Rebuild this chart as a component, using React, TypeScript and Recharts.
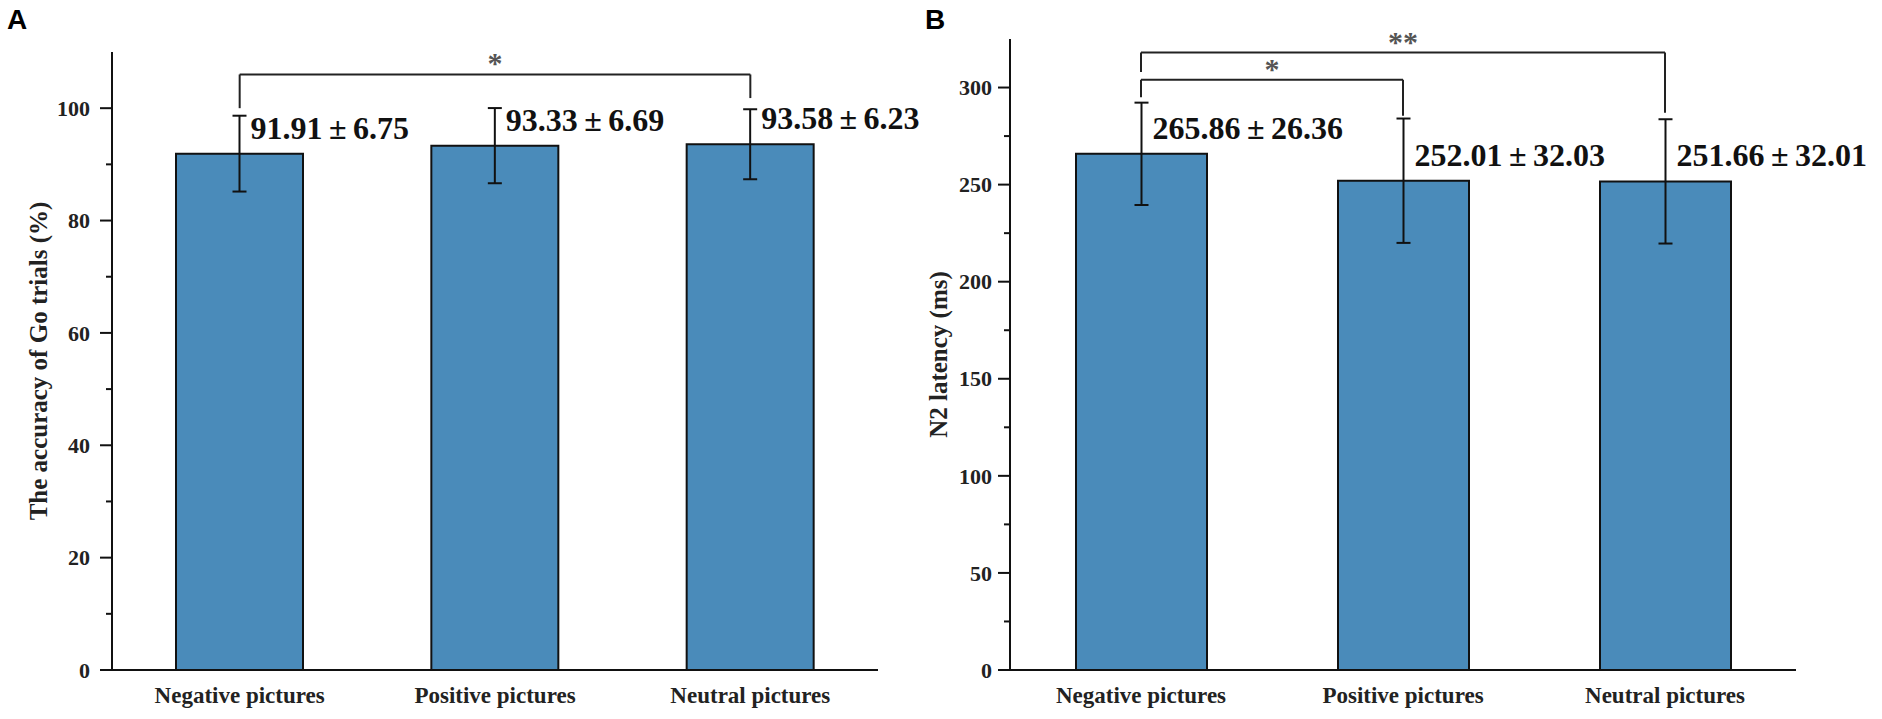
import React from "react";
import { Bar, BarChart, ErrorBar, LabelList, ReferenceLine, XAxis, YAxis } from "recharts";

document.body.style.margin = "0";

const categories = ["Negative pictures", "Positive pictures", "Neutral pictures"];
const accuracyMean = [91.91, 93.33, 93.58];
const accuracySd = [6.75, 6.69, 6.23];
const latencyMean = [265.86, 252.01, 251.66];
const latencySd = [26.36, 32.03, 32.01];

const accuracyTicks = [0, 10, 20, 30, 40, 50, 60, 70, 80, 90, 100];
const latencyTicks = [0, 25, 50, 75, 100, 125, 150, 175, 200, 225, 250, 275, 300];

// significance brackets (y values in data units)
const accuracyBrackets = [
  { from: "Negative pictures", to: "Neutral pictures", y: 106, fromEnd: 100, toEnd: 101.8, mark: "*" },
];
const latencyBrackets = [
  { from: "Negative pictures", to: "Positive pictures", y: 304, fromEnd: 295, toEnd: 285.5, mark: "*" },
  { from: "Negative pictures", to: "Neutral pictures", y: 318, fromEnd: 308, toEnd: 287, mark: "**" },
];

const SERIF = '"Liberation Serif", "Times New Roman", serif';
const INK = "#111";
const BAR = "#4A8BBA";
const TICK = 12;
const MINOR = 6;

const rows = (means: number[], sds: number[]) =>
  categories.map((name, i) => ({
    name,
    mean: means[i],
    sd: sds[i],
    label: `${means[i].toFixed(2)}\u2009±\u2009${sds[i].toFixed(2)}`,
  }));

function makeYTick(majorStep: number, margin: number) {
  return (props: any) => {
    const { x, y, payload } = props;
    const axisX = Number(x) + TICK + margin;
    const major = payload.value % majorStep === 0;
    return (
      <g>
        <line x1={axisX - (major ? TICK : MINOR)} x2={axisX} y1={y} y2={y} stroke={INK} strokeWidth={2} />
        {major && (
          <text x={x} y={y} dy="0.35em" textAnchor="end" fontFamily={SERIF} fontWeight="bold" fontSize={22} fill="#222">
            {payload.value}
          </text>
        )}
      </g>
    );
  };
}

function yTitle(text: string) {
  return (props: any) => {
    const vb = props.viewBox || { x: 0, y: 0, height: 0 };
    const cx = vb.x + 38;
    const cy = vb.y + vb.height / 2;
    return (
      <text
        x={cx}
        y={cy}
        transform={`rotate(-90, ${cx}, ${cy})`}
        textAnchor="middle"
        dominantBaseline="central"
        fontFamily={SERIF}
        fontWeight="bold"
        fontSize={25}
        fill="#222"
      >
        {text}
      </text>
    );
  };
}

const valueLabel = (props: any) => {
  const { x, y, width, value } = props;
  return (
    <text x={Number(x) + Number(width) / 2 + 11} y={Number(y) - 15} fontFamily={SERIF} fontWeight="bold" fontSize={32} fill={INK}>
      {value}
    </text>
  );
};

function bracketLines(list: typeof accuracyBrackets) {
  return list.flatMap((b, i) => [
    <ReferenceLine
      key={`h${i}`}
      segment={[{ x: b.from, y: b.y }, { x: b.to, y: b.y }]}
      stroke="#222"
      strokeWidth={2}
      ifOverflow="visible"
      label={{ value: b.mark, position: "top", offset: 1, fontSize: 30, fontWeight: "bold", fill: "#555", fontFamily: SERIF }}
    />,
    <ReferenceLine key={`l${i}`} segment={[{ x: b.from, y: b.y }, { x: b.from, y: b.fromEnd }]} stroke="#222" strokeWidth={2} ifOverflow="visible" />,
    <ReferenceLine key={`r${i}`} segment={[{ x: b.to, y: b.y }, { x: b.to, y: b.toEnd }]} stroke="#222" strokeWidth={2} ifOverflow="visible" />,
  ]);
}

function Panel({
  data,
  domain,
  ticks,
  majorStep,
  tickGap,
  title,
  brackets,
  width,
  margin,
  yWidth,
  barSize,
}: any) {
  return (
    <BarChart width={width} height={719} data={data} margin={margin}>
      <XAxis
        dataKey="name"
        tickLine={false}
        axisLine={{ stroke: INK, strokeWidth: 2 }}
        tick={{ fontFamily: SERIF, fontWeight: "bold", fontSize: 23, fill: "#222" }}
        tickMargin={11}
        height={49}
        interval={0}
      />
      <YAxis
        type="number"
        domain={domain}
        ticks={ticks}
        interval={0}
        width={yWidth}
        tickSize={TICK}
        tickMargin={tickGap}
        tickLine={false}
        axisLine={{ stroke: INK, strokeWidth: 2 }}
        tick={makeYTick(majorStep, tickGap)}
        label={{ content: yTitle(title) }}
      />
      <Bar dataKey="mean" fill={BAR} stroke={INK} strokeWidth={2} barSize={barSize} isAnimationActive={false}>
        <ErrorBar dataKey="sd" direction="y" width={7} stroke={INK} strokeWidth={2} isAnimationActive={false} />
        <LabelList dataKey="label" content={valueLabel} />
      </Bar>
      {bracketLines(brackets)}
    </BarChart>
  );
}

const panelLetter = (left: number): React.CSSProperties => ({
  position: "absolute",
  left,
  top: 6,
  fontFamily: '"Liberation Sans", Arial, sans-serif',
  fontWeight: "bold",
  fontSize: 28,
  lineHeight: 1,
  color: "#000",
});

export default function App() {
  return (
    <div style={{ position: "relative", width: 1882, height: 719, background: "#fff", overflow: "hidden" }}>
      <div style={{ position: "absolute", left: 900, top: 0 }}>
        <Panel
          data={rows(latencyMean, latencySd)}
          domain={[0, 325]}
          ticks={latencyTicks}
          majorStep={50}
          tickGap={6}
          title="N2 latency (ms)"
          brackets={latencyBrackets}
          width={982}
          margin={{ top: 39, right: 86, left: 0, bottom: 0 }}
          yWidth={110}
          barSize={131}
        />
      </div>
      <div style={{ position: "absolute", left: 0, top: 0 }}>
        <Panel
          data={rows(accuracyMean, accuracySd)}
          domain={[0, 110]}
          ticks={accuracyTicks}
          majorStep={20}
          tickGap={10}
          title="The accuracy of Go trials (%)"
          brackets={accuracyBrackets}
          width={935}
          margin={{ top: 52, right: 57, left: 0, bottom: 0 }}
          yWidth={112}
          barSize={127}
        />
      </div>
      <div style={panelLetter(7)}>A</div>
      <div style={panelLetter(925)}>B</div>
    </div>
  );
}
